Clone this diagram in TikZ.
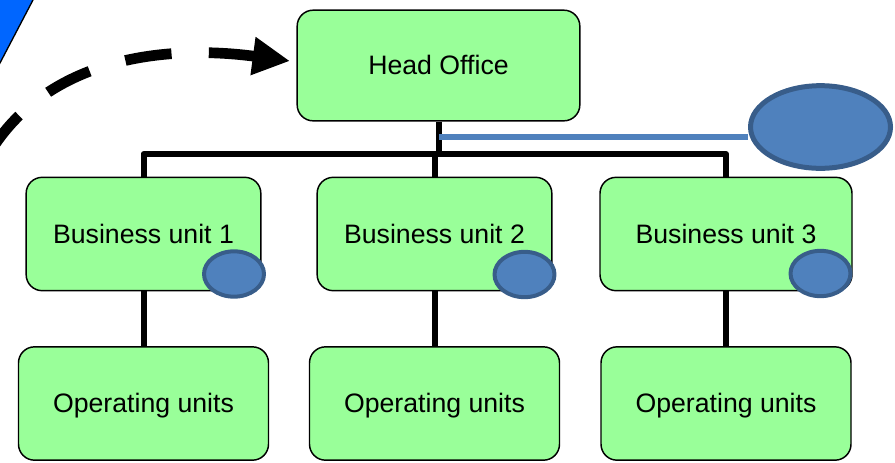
\documentclass[tikz,border=0pt]{standalone}
\usepackage{fontspec}
\setmainfont{Liberation Sans}
\usetikzlibrary{arrows.meta,shapes.geometric}
\definecolor{boxgreen}{RGB}{153,255,153}
\definecolor{dotblue}{RGB}{79,129,189}
\definecolor{dotedge}{RGB}{56,93,138}
\definecolor{cornerblue}{RGB}{0,102,255}
\begin{document}
\begin{tikzpicture}[x=0.75pt,y=-0.75pt,line join=round,
	unit/.style={draw,fill=boxgreen,line width=1.1pt,rounded corners=12pt,inner sep=0pt,text height=14pt,text depth=0pt,font=\fontsize{20}{24}\selectfont},
	tree/.style={line width=4.5pt},
	dot/.style={ellipse,draw=dotedge,fill=dotblue,line width=3pt,inner sep=0pt,minimum width=45pt,minimum height=34pt}]
	\clip (0,0) rectangle (895,462);
	% corner piece
	\filldraw[fill=cornerblue,draw=black,line width=1pt] (-5,-5) -- (35.6,-5) -- (-5,72.5) -- cycle;
	\node[unit,minimum width=212pt,minimum height=83pt] (ho) at (438.5,65.5) {Head Office};
	\foreach \n/\x/\w in {1/143.5/176,2/434.5/176,3/726/189}
	\node[unit,minimum width=\w pt,minimum height=85pt] (bu\n) at (\x,234) {Business unit \n};
	\foreach \n/\x in {1/143.5,2/434.5,3/726}
	\node[unit,minimum width=187.5pt,minimum height=85pt] (ou\n) at (\x,403.5) {Operating units};
	\path 
	(0,154) coordinate (bar)
	(439,137) coordinate (tap)
	(-10,152) coordinate (start)
	(290,61) coordinate (tip);
	\draw[tree] (bu1.north) |- (ho.south|-bar) -| (bu3.north);
	\draw[tree] (ho.south) -- (ho.south|-bar);
	\draw[tree] (bu2.north) -- (bu2.north|-bar);
	\foreach \n in {1,2,3}
	\draw[tree] (bu\n) -- (ou\n);
	\node[dot,line width=3.75pt,minimum width=105pt,minimum height=62pt] (note) at (820.5,127) {};
	\draw[dotblue,line width=4.2pt] (tap) -- (tap-|note.west);
	\node[dot] (dot1) at (234,274) {};
	\node[dot] (dot2) at (524.5,274.5) {};
	\node[dot] (dot3) at (820.5,273.5) {};
	\draw[line width=8pt,dash pattern=on 35pt off 28pt,-{Triangle[length=28pt,width=27pt]}] (start) .. controls (50,55) and (170,45) .. (tip);
\end{tikzpicture}
\end{document}
